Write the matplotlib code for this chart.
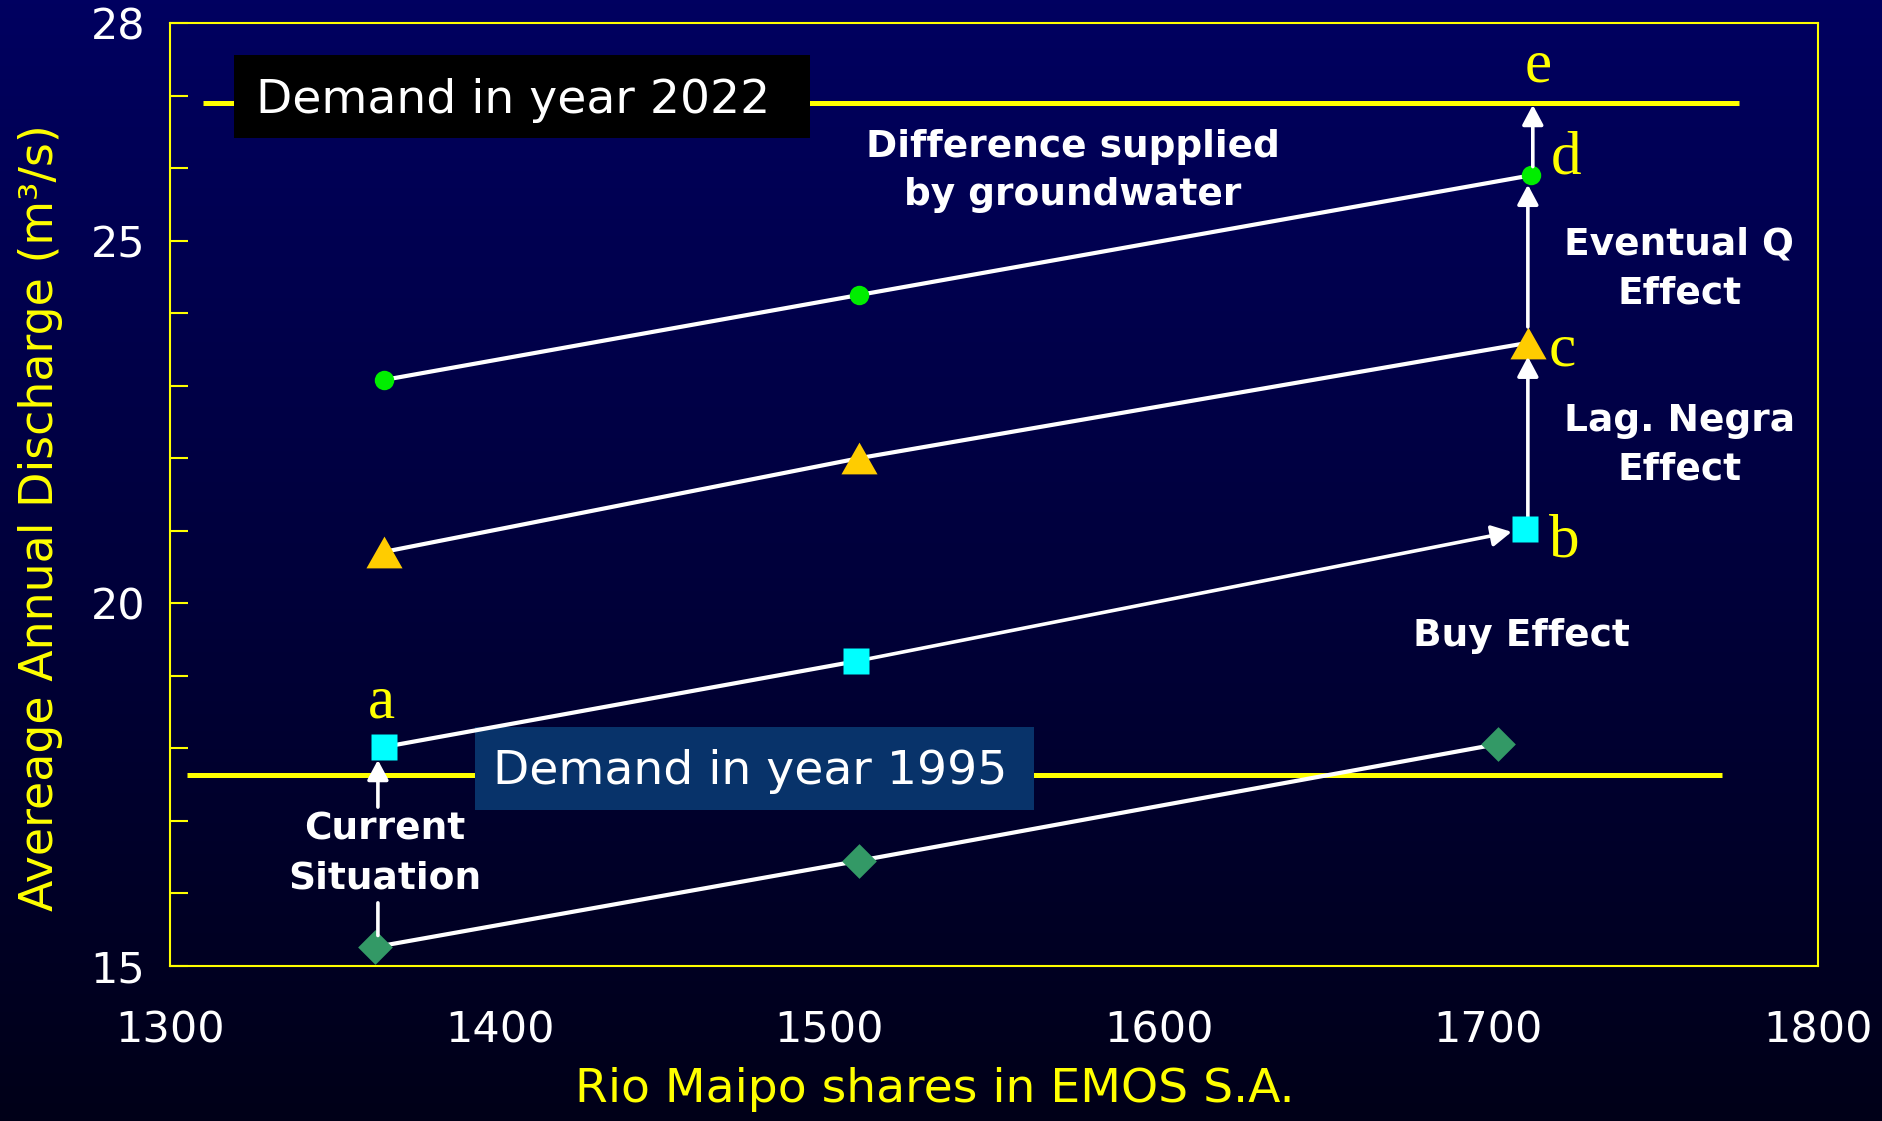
import numpy as np
import matplotlib
matplotlib.use("Agg")
import matplotlib.pyplot as plt
from matplotlib.colors import LinearSegmentedColormap
from matplotlib.patches import Rectangle
from matplotlib.path import Path

# ---- data -------------------------------------------------------------
x_ticks = [1300, 1400, 1500, 1600, 1700, 1800]
y_labelled = [15, 20, 25, 28]

# base case (diamonds)
shares_base = [1362, 1509, 1703]
q_base = [15.26, 16.45, 18.06]
# after buying shares (squares)
shares_buy = [1365, 1508, 1711]
q_buy = [18.02, 19.20, 21.02]
# with Laguna Negra (triangles)
shares_lag = [1365, 1509, 1712]
q_lag = [20.71, 22.00, 23.59]
# eventual Q (dots)
shares_evq = [1365, 1509, 1713]
q_evq = [23.08, 24.25, 25.90]

demand_1995 = 17.63
demand_1995_span = [1305, 1771]
demand_2022 = 26.90
demand_2022_span = [1310, 1776]

# ---- figure -----------------------------------------------------------
W, H, DPI = 1882, 1121, 100
fig = plt.figure(figsize=(W / DPI, H / DPI), dpi=DPI)

# vertical navy gradient background
bg = fig.add_axes([0, 0, 1, 1], zorder=-10)
grad = np.linspace(1, 0, 256).reshape(-1, 1)
cmap = LinearSegmentedColormap.from_list("navy", ["#000018", "#000060"])
bg.imshow(grad, aspect="auto", cmap=cmap, extent=[0, 1, 0, 1])
bg.set_axis_off()

ax = fig.add_axes([0.0905, 0.1383, 0.8754, 0.8412])
ax.patch.set_alpha(0)
ax.set_xlim(1300, 1800)
ax.set_ylim(15, 28)

YELLOW = "#FFFF00"
for sp in ax.spines.values():
    sp.set_color(YELLOW)
    sp.set_linewidth(1.5)

ax.set_xticks(x_ticks)
ax.set_xticklabels([str(v) for v in x_ticks])
ax.tick_params(axis="x", length=0, pad=31, labelsize=31, labelcolor="white")
yt = list(range(15, 29))
ax.set_yticks(yt)
ax.set_yticklabels([str(v) if v in y_labelled else "" for v in yt])
ax.tick_params(axis="y", direction="in", length=13, width=1.5, color=YELLOW,
               pad=18, labelsize=31, labelcolor="white")

fig.text(0.0213, 0.538, "Avereage Annual Discharge (m\u00b3/s)", rotation=90,
         ha="center", va="center", color=YELLOW, fontsize=33)
fig.text(0.4965, 0.0277, "Rio Maipo shares in EMOS S.A.", ha="center",
         va="center", color=YELLOW, fontsize=34)

# demand lines
ax.plot(demand_2022_span, [demand_2022] * 2, color=YELLOW, lw=3.6, zorder=2,
        solid_capstyle="butt")
ax.plot(demand_1995_span, [demand_1995] * 2, color=YELLOW, lw=3.6, zorder=2,
        solid_capstyle="butt")

# demand labels in boxes
ax.add_patch(Rectangle((0.0386, 0.878), 0.3494, 0.088, transform=ax.transAxes,
                       facecolor="black", edgecolor="none", zorder=3))
ax.text(0.052, 0.918, "Demand in year 2022", transform=ax.transAxes,
        ha="left", va="center", color="white", fontsize=34, zorder=4)
ax.add_patch(Rectangle((0.1848, 0.1654), 0.3392, 0.088, transform=ax.transAxes,
                       facecolor="#08336A", edgecolor="none", zorder=3))
ax.text(0.196, 0.2057, "Demand in year 1995", transform=ax.transAxes,
        ha="left", va="center", color="white", fontsize=34, zorder=4)

# series
closed4 = [Path.MOVETO, Path.LINETO, Path.LINETO, Path.LINETO, Path.CLOSEPOLY]
diamond = Path([(0, 1), (1, 0), (0, -1), (-1, 0), (0, 1)], closed4)
triangle = Path([(0, 0.88), (-1, -0.88), (1, -0.88), (0, 0.88)],
                [Path.MOVETO, Path.LINETO, Path.LINETO, Path.CLOSEPOLY])
LW = 3.0
ax.plot(shares_base, q_base, color="white", lw=LW, marker=diamond, ms=25,
        mfc="#339966", mec="none", zorder=5)
ax.plot(shares_buy[:2], q_buy[:2], color="white", lw=LW, zorder=5)
ax.plot(shares_buy, q_buy, ls="none", marker="s", ms=19, mfc="#00FFFF",
        mec="none", zorder=6)
ax.plot(shares_lag, q_lag, color="white", lw=LW, marker=triangle, ms=26,
        mfc="#FFCC00", mec="none", zorder=5)
ax.plot(shares_evq, q_evq, color="white", lw=LW, marker="o", ms=14,
        mfc="#00EE00", mec="none", zorder=5)

ARW = "-|>,head_length=0.6,head_width=0.32"
def arrow(x0, y0, x1, y1, style=ARW, shrink_end=0):
    ax.annotate("", xy=(x1, y1), xytext=(x0, y0),
                arrowprops=dict(arrowstyle=style, color="white", lw=2.6,
                                shrinkA=0, shrinkB=shrink_end,
                                mutation_scale=20),
                zorder=5)

# last segment of the purchase curve ends with an arrow into point b
arrow(shares_buy[1], q_buy[1], shares_buy[2], q_buy[2], shrink_end=9.5)

# vertical effect arrows b -> c -> d -> e
arrow(1712, 21.19, 1712, 23.40)
arrow(1712, 23.81, 1712, 25.77)
arrow(1713.5, 26.02, 1713.5, 26.87)

# current situation pointers
arrow(1363, 17.19, 1363, 17.84)
arrow(1363, 15.87, 1363, 15.42, style="-")

# point letters
serif = dict(family="Liberation Serif", color=YELLOW, fontsize=44,
             ha="center", va="baseline", zorder=7)
ax.text(1364, 18.43, "a", **serif)
ax.text(1723, 20.64, "b", **serif)
ax.text(1722.5, 23.28, "c", **serif)
ax.text(1723.5, 25.93, "d", **serif)
ax.text(1715, 27.19, "e", **serif)

bold = dict(color="white", fontsize=27, fontweight="bold", ha="center",
            va="center", linespacing=1.45, zorder=7)
ax.text(1574, 25.96, "Difference supplied\nby groundwater", **bold)
ax.text(1758, 24.61, "Eventual Q\nEffect", **bold)
ax.text(1758, 22.18, "Lag. Negra\nEffect", **bold)
ax.text(1710, 19.55, "Buy Effect", **bold)
ax.text(1365, 16.54, "Current\nSituation", **bold)

fig.savefig("out.png", dpi=DPI)
